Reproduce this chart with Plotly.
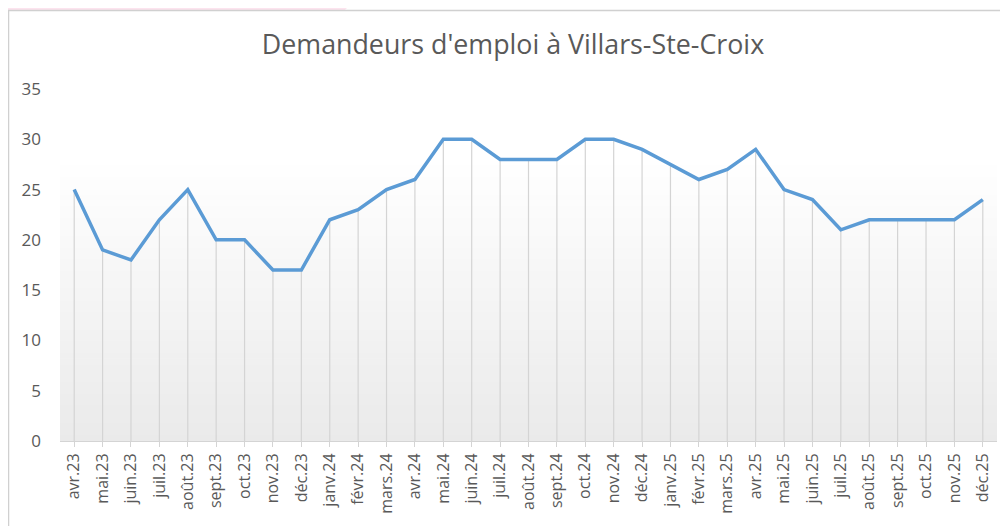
import plotly.graph_objects as go

months = ["avr.23", "mai.23", "juin.23", "juil.23", "août.23", "sept.23", "oct.23", "nov.23", "déc.23",
          "janv.24", "févr.24", "mars.24", "avr.24", "mai.24", "juin.24", "juil.24", "août.24", "sept.24",
          "oct.24", "nov.24", "déc.24", "janv.25", "févr.25", "mars.25", "avr.25", "mai.25", "juin.25",
          "juil.25", "août.25", "sept.25", "oct.25", "nov.25", "déc.25"]
demandeurs = [25, 19, 18, 22, 25, 20, 20, 17, 17,
              22, 23, 25, 26, 30, 30, 28, 28, 28,
              30, 30, 29, 27.5, 26, 27, 29, 25, 24,
              21, 22, 22, 22, 22, 24]
y_ticks = [0, 5, 10, 15, 20, 25, 30, 35]
title = "Demandeurs d'emploi à Villars-Ste-Croix"

# page has an 8px body margin: figure coords = screen coords - 8
OFF = 8
W, H = 1008 - OFF, 526 - OFF
PL, PR, PT, PB = 60 - OFF, 997 - OFF, 89 - OFF, 441 - OFF
pw, ph = PR - PL, PB - PT


def px(x):
    return (x - OFF - PL) / pw


def py(y):
    return (PB - (y - OFF)) / ph


shapes = []
# pink decorative corner (only the part inside the figure is visible)
pts = [(0, 0), (355, 0), (345, 10), (8, 10), (8, 470), (0, 490)]
path = "M " + " L ".join(f"{px(a):.5f},{py(b):.5f}" for a, b in pts) + " Z"
shapes.append(dict(type="path", path=path, xref="paper", yref="paper",
                   fillcolor="#fce3ee", line=dict(width=0), layer="below"))
# white chart box with border
shapes.append(dict(type="rect", xref="paper", yref="paper",
                   x0=px(8.5), x1=px(1030), y0=py(540), y1=py(10.5),
                   fillcolor="white", line=dict(color="#d0d0d0", width=1.5), layer="below"))
# vertical gradient background in the plot area
n = 60
for i in range(n):
    t0 = i / n
    t1 = (i + 1) / n
    tm = (t0 + t1) / 2
    g = 234 + (255 - 234) * min(1, tm / 0.8)
    g = int(round(g))
    shapes.append(dict(type="rect", xref="x domain", yref="y domain",
                       x0=0, x1=1, y0=t0, y1=t1 + 0.002,
                       fillcolor=f"rgb({g},{g},{g})", line=dict(width=0), layer="below"))

x_idx = list(range(len(months)))

fig = go.Figure()
# drop lines
fig.add_trace(go.Scatter(
    x=x_idx, y=demandeurs, mode="markers",
    marker=dict(size=0.1, color="rgba(0,0,0,0)"),
    error_y=dict(type="data", symmetric=False, array=[0] * len(demandeurs),
                 arrayminus=demandeurs, width=0, thickness=1.2, color="#d4d4d4"),
    hoverinfo="skip", showlegend=False))
fig.add_trace(go.Scatter(
    x=x_idx, y=demandeurs, mode="lines",
    line=dict(color="#5b9bd5", width=3.5),
    showlegend=False, name="Demandeurs"))

fig.update_layout(
    width=W, height=H,
    margin=dict(l=PL, r=W - PR, t=PT, b=H - PB),
    paper_bgcolor="white", plot_bgcolor="rgba(0,0,0,0)",
    shapes=shapes,
    title=dict(text=title, x=(513 - OFF) / W, xanchor="center",
               y=1 - (45 - OFF) / H, yanchor="middle",
               font=dict(family="Open Sans", size=26.8, color="#595959")),
    font=dict(family="Open Sans", color="#595959"),
)
fig.update_xaxes(
    range=[-0.5, len(months) - 0.5],
    tickmode="array", tickvals=x_idx, ticktext=months,
    tickangle=-90, tickfont=dict(size=16, color="#595959"),
    ticks="outside", tickson="boundaries", ticklen=5, tickcolor="#d4d4d4",
    showline=True, linecolor="#d4d4d4", linewidth=1,
    showgrid=False, zeroline=False, fixedrange=True)
fig.update_yaxes(
    range=[0, 35], tickvals=y_ticks,
    tickfont=dict(size=17, color="#595959"),
    showgrid=False, zeroline=False, showline=False, ticks="",
    ticklabelstandoff=18, fixedrange=True)

fig.write_html("out.html")
